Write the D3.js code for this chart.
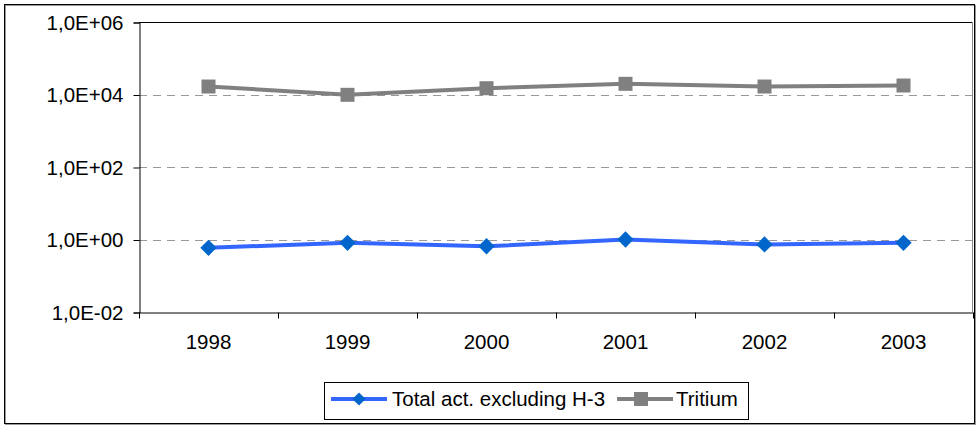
<!DOCTYPE html>
<html><head><meta charset="utf-8">
<script src="https://cdn.jsdelivr.net/npm/d3@7"></script>
<style>body{margin:0;background:#fff}svg{display:block}text{font-family:"Liberation Sans",Arial,sans-serif}</style>
</head><body><svg id="c" width="977" height="428"></svg>
<script>
const years = ["1998","1999","2000","2001","2002","2003"];
const totalAct = [0.59, 0.81, 0.65, 1.0, 0.73, 0.81];
const tritium = [16600, 9800, 14900, 19700, 16600, 17700];
const yTicks = [1e-2, 1e0, 1e2, 1e4, 1e6];
const yTickLabels = ["1,0E-02","1,0E+00","1,0E+02","1,0E+04","1,0E+06"];
const seriesNames = ["Total act. excluding H-3", "Tritium"];

const FS = 20.5;
const svg = d3.select("#c");
// outer frame
svg.append("rect").attr("x",5.5).attr("y",5.5).attr("width",970).attr("height",419)
  .attr("fill","none").attr("stroke","#999").attr("stroke-width",1);
svg.append("rect").attr("x",4.5).attr("y",4.5).attr("width",970).attr("height",419)
  .attr("fill","none").attr("stroke","#000").attr("stroke-width",1);

const L=139, R=973, T=22, B=312;
const x = d3.scaleBand().domain(years).range([L,R]);
const y = d3.scaleLog().domain([1e-2,1e6]).range([B,T]);

// gridlines
svg.append("g").selectAll("line").data(yTicks.slice(1,4)).join("line")
  .attr("x1",L).attr("x2",R).attr("y1",d=>Math.round(y(d))+0.5).attr("y2",d=>Math.round(y(d))+0.5)
  .attr("stroke","#999").attr("stroke-dasharray","8,6");
// plot border top/right
svg.append("line").attr("x1",L).attr("x2",R).attr("y1",T+0.5).attr("y2",T+0.5).attr("stroke","#000");
svg.append("line").attr("x1",R-0.5).attr("x2",R-0.5).attr("y1",T).attr("y2",B).attr("stroke","#888");

// y axis
const yAxis = d3.axisLeft(y).tickValues(yTicks).tickFormat((d,i)=>yTickLabels[i]).tickSize(6).tickPadding(10);
const gy = svg.append("g").attr("transform",`translate(${L+0.5},0.5)`).call(yAxis);
gy.selectAll("path").attr("stroke","#000");
gy.selectAll("line").attr("stroke","#000");
gy.selectAll("text").attr("font-size",FS).attr("fill","#000");

// x axis
const xAxis = d3.axisBottom(x).tickSize(6).tickPadding(16).tickSizeOuter(0);
const gx = svg.append("g").attr("transform",`translate(0,${B+0.5})`).call(xAxis);
gx.select("path").attr("stroke","#000");
gx.selectAll(".tick line").remove();
gx.selectAll("text").attr("font-size",FS).attr("fill","#000");
// category boundary ticks
gx.append("g").selectAll("line").data(d3.range(years.length+1)).join("line")
  .attr("x1",i=>L+i*x.step()+0.5).attr("x2",i=>L+i*x.step()+0.5).attr("y1",0).attr("y2",6).attr("stroke","#000");

const cx = d=>x(d)+x.bandwidth()/2;
const line = d3.line().x((d,i)=>cx(years[i])).y(d=>y(d));

// tritium
svg.append("path").datum(tritium).attr("d",line).attr("fill","none").attr("stroke","#808080").attr("stroke-width",4);
svg.append("g").selectAll("rect").data(tritium).join("rect")
  .attr("x",(d,i)=>cx(years[i])-7).attr("y",d=>y(d)-7).attr("width",14).attr("height",14).attr("fill","#808080");

// total act
svg.append("path").datum(totalAct).attr("d",line).attr("fill","none").attr("stroke","#3366ff").attr("stroke-width",4);
const dia = d3.symbol().type(d3.symbolDiamond2).size(170);
svg.append("g").selectAll("path").data(totalAct).join("path")
  .attr("d",dia).attr("transform",(d,i)=>`translate(${cx(years[i])},${y(d)})`).attr("fill","#0066cc");

// legend
const lg = svg.append("g");
lg.append("rect").attr("x",324.5).attr("y",382.5).attr("width",424).attr("height",37).attr("fill","#fff").attr("stroke","#000");
lg.append("line").attr("x1",331).attr("x2",387).attr("y1",399).attr("y2",399).attr("stroke","#3366ff").attr("stroke-width",4);
lg.append("path").attr("d",d3.symbol().type(d3.symbolDiamond2).size(110)).attr("transform","translate(359,399)").attr("fill","#0066cc");
lg.append("text").attr("x",392).attr("y",406).attr("font-size",FS).text(seriesNames[0]);
lg.append("line").attr("x1",617).attr("x2",673).attr("y1",399).attr("y2",399).attr("stroke","#808080").attr("stroke-width",4);
lg.append("rect").attr("x",634).attr("y",392).attr("width",14).attr("height",14).attr("fill","#808080");
lg.append("text").attr("x",676).attr("y",406).attr("font-size",FS).text(seriesNames[1]);
</script></body></html>
